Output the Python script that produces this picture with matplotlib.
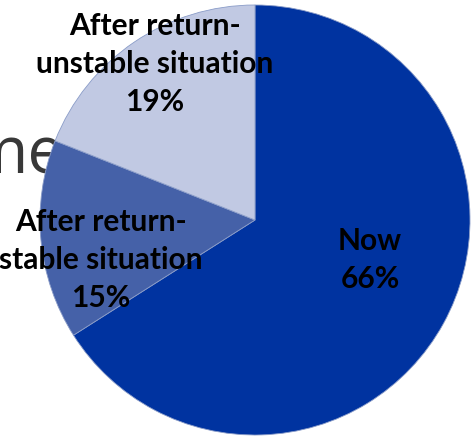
import matplotlib.pyplot as plt
import numpy as np

# slice data, clockwise from 12 o'clock
labels = ["Now", "After return-\nstable situation", "After return-\nunstable situation"]
shares = [66, 15, 19]
colors = ["#0033a0", "#4561a8", "#c1c9e3"]

# figure is 474x436 px; pie centre at (255, 220) px, radius 215 px
fig = plt.figure(figsize=(4.74, 4.36), dpi=100)
ax = fig.add_axes([0, 0, 1, 1])
R = 215.0

# slide background text peeking out from behind the chart (cut at the left edge)
ax.text((-33 - 255) / R, (220 - 173) / R, "me", fontsize=47, family="Open Sans",
        fontweight="normal", color="#383838", ha="left", va="baseline", zorder=0)

wedges, _ = ax.pie(shares, colors=colors, startangle=90, counterclock=False,
                   radius=1.0, center=(0, 0), frame=True,
                   wedgeprops=dict(linewidth=0.6, edgecolor="#8a9cc8"))
ax.set_xlim(-255 / R, (474 - 255) / R)
ax.set_ylim(-(436 - 220) / R, 220 / R)
ax.axis("off")
for w in wedges:
    w.set_zorder(2)

# label placement: (distance from centre, angle shift in degrees)
place = [(0.566, 9.6), (0.74, 9.2), (0.862, -1.5)]
for w, lab, val, (d, da) in zip(wedges, labels, shares, place):
    ang = np.deg2rad((w.theta1 + w.theta2) / 2 + da)
    ax.text(d * np.cos(ang), d * np.sin(ang), f"{lab}\n{val}%",
            ha="center", va="center", fontsize=21.5, fontweight="bold",
            family="Lato", color="black", linespacing=1.43, zorder=3)

fig.savefig("out.png", dpi=100, facecolor="white")
